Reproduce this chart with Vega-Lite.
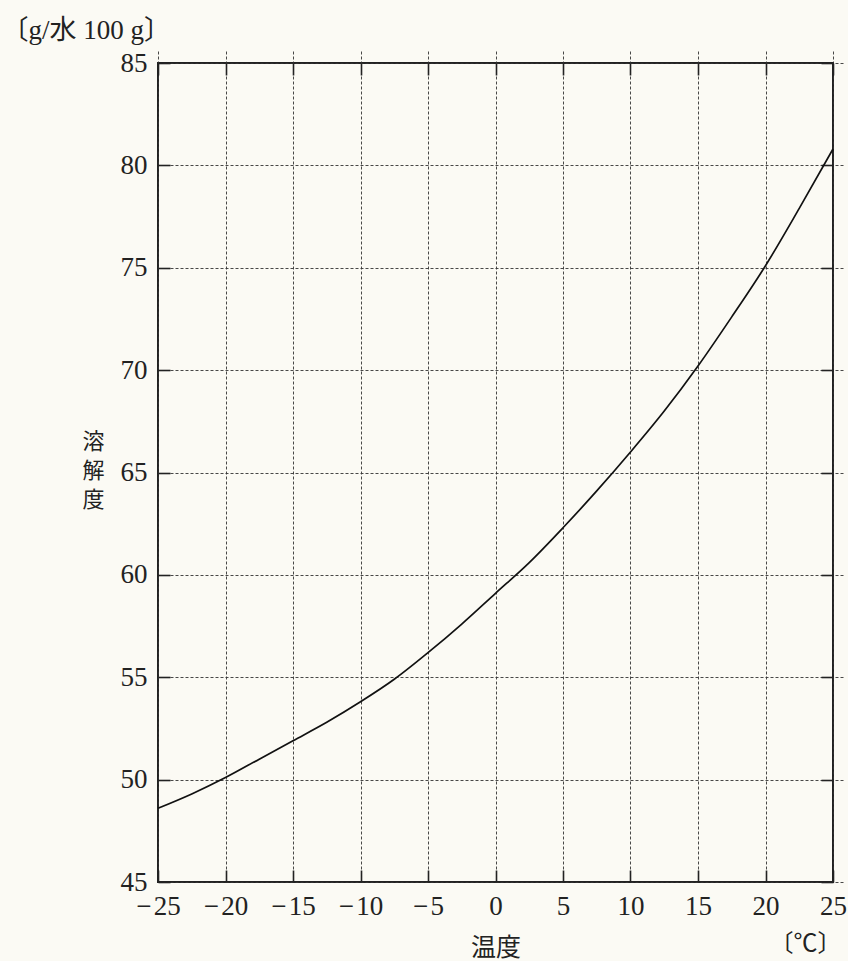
{
  "$schema": "https://vega.github.io/schema/vega-lite/v6.json",
  "autosize": "none",
  "width": 675,
  "height": 819,
  "padding": {"left": 158, "top": 63, "right": 15, "bottom": 79},
  "background": "#fbfaf4",
  "config": {
    "view": {"stroke": "#222", "strokeWidth": 2},
    "font": "Liberation Serif",
    "axis": {
      "labelFont": "Liberation Serif, Noto Sans CJK JP",
      "titleFont": "Noto Sans CJK JP",
      "labelFontSize": 27,
      "labelColor": "#222",
      "titleColor": "#222",
      "titleFontSize": 23,
      "titleFontWeight": "normal",
      "domain": false,
      "tickColor": "#222",
      "tickWidth": 1.6,
      "tickSize": 12,
      "offset": -12,
      "labelFlush": false,
      "labelOverlap": false,
      "gridColor": "#333",
      "gridDash": [3, 2],
      "gridWidth": 0.9
    }
  },
  "data": {
    "values": [
      {"t": -25, "s": 48.6},
      {"t": -22.5, "s": 49.3},
      {"t": -20, "s": 50.1},
      {"t": -17.5, "s": 51.0},
      {"t": -15, "s": 51.9},
      {"t": -12.5, "s": 52.8},
      {"t": -10, "s": 53.8},
      {"t": -7.5, "s": 54.9},
      {"t": -5, "s": 56.2},
      {"t": -2.5, "s": 57.6},
      {"t": 0, "s": 59.1},
      {"t": 2.5, "s": 60.6},
      {"t": 5, "s": 62.3},
      {"t": 7.5, "s": 64.1},
      {"t": 10, "s": 66.0},
      {"t": 12.5, "s": 68.0},
      {"t": 15, "s": 70.2},
      {"t": 17.5, "s": 72.6},
      {"t": 20, "s": 75.1},
      {"t": 22.5, "s": 77.9},
      {"t": 25, "s": 80.8}
    ]
  },
  "layer": [
    {
      "mark": {"type": "line", "color": "#111", "strokeWidth": 1.7, "interpolate": "monotone"},
      "encoding": {
        "x": {
          "field": "t", "type": "quantitative",
          "scale": {"domain": [-25, 25], "nice": false, "zero": false},
          "axis": {
            "orient": "bottom", "values": [-25,-20,-15,-10,-5,0,5,10,15,20,25],
            "grid": true, "labelPadding": 11,
            "labelExpr": "datum.value < 0 ? '−\u200a' + abs(datum.value) : datum.label",
            "title": "温度", "titleFontSize": 25, "titleY": 77, "titleBaseline": "middle"
          }
        },
        "y": {
          "field": "s", "type": "quantitative",
          "scale": {"domain": [45, 85], "nice": false, "zero": false},
          "axis": {
            "orient": "left", "values": [45,50,55,60,65,70,75,80,85],
            "grid": true, "labelPadding": 11, "labelBaseline": "middle",
            "title": ["溶", "解", "度"], "titleFontSize": 22, "titleAngle": 0, "titleX": -77, "titleY": 368,
            "titleAlign": "center", "titleBaseline": "top", "titleLineHeight": 29
          }
        }
      }
    },
    {
      "mark": {"type": "line", "opacity": 0},
      "encoding": {
        "x": {
          "field": "t", "type": "quantitative",
          "scale": {"domain": [-25, 25], "nice": false, "zero": false},
          "axis": {
            "orient": "top", "values": [-25,-20,-15,-10,-5,0,5,10,15,20,25],
            "labels": false, "grid": false,
            "title": "〔g/水 100 g〕", "titleFont": "Liberation Serif, Noto Sans CJK JP", "titleFontSize": 27,
            "titleX": -157, "titleY": -45, "titleAlign": "left", "titleBaseline": "middle"
          }
        },
        "y": {
          "field": "s", "type": "quantitative",
          "scale": {"domain": [45, 85], "nice": false, "zero": false},
          "axis": {
            "orient": "right", "values": [45,50,55,60,65,70,75,80,85],
            "labels": false, "grid": false,
            "title": "〔℃〕", "titleFont": "Liberation Serif, Noto Sans CJK JP", "titleFontSize": 24, "titleAngle": 0,
            "titleX": -16, "titleY": 880, "titleAlign": "center", "titleBaseline": "middle"
          }
        }
      }
    }
  ],
  "resolve": {"axis": {"x": "independent", "y": "independent"}}
}
